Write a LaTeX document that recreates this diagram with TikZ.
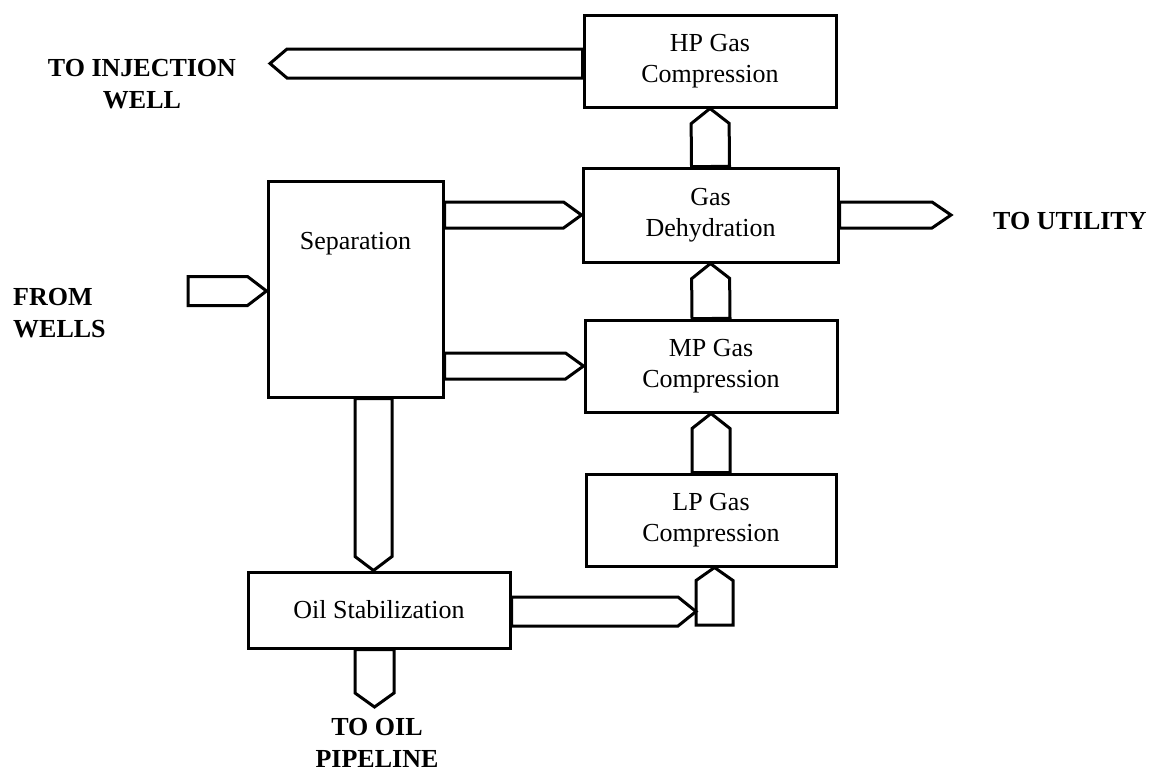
\documentclass[tikz,border=0pt]{standalone}
\usepackage{fontspec}
\setmainfont{Liberation Serif}
\usetikzlibrary{calc}
\tikzset{
  box/.style={draw, line width=3pt, fill=white, inner sep=0pt, align=center,
    font=\fontsize{26}{31}\selectfont},
  pipe/.style={draw, line width=3pt, fill=white, line join=miter},
  lbl/.style={font=\fontsize{26}{32}\selectfont\bfseries, inner sep=0pt},
  boxtext/.style={inner sep=0pt, font=\fontsize{26}{31}\selectfont},
}
% #1 half width, #2 head length, #3 start, #4 tip
\newcommand\barrow[4]{%
  \coordinate (bh) at ($(#4)!#2pt!(#3)$);
  \draw[pipe] ($(#3)!#1pt!90:(#4)$) -- ($(bh)!#1pt!-90:(#3)$) -- (#4)
     -- ($(bh)!#1pt!90:(#3)$) -- ($(#3)!#1pt!-90:(#4)$) -- cycle;}
\begin{document}
\begin{tikzpicture}[x=1pt,y=-1pt]
\useasboundingbox (0,0) rectangle (1151,772);
% boxes
\node[box, minimum width=252pt, minimum height=92pt] (hp) at (710,61) {HP Gas\\Compression};
\node[box, minimum width=255pt, minimum height=94pt] (dehy) at (710.5,215) {Gas\\Dehydration};
\node[box, minimum width=175pt, minimum height=216pt] (sep) at (355.5,289) {};
\node[boxtext, anchor=base] (septxt) at ($(sep.north)+(0,70)$) {Separation};
\node[box, minimum width=252pt, minimum height=92pt] (mp) at (711,366) {MP Gas\\Compression};
\node[box, minimum width=250pt, minimum height=92pt] (lp) at (711,520) {LP Gas\\Compression};
\node[box, minimum width=262pt, minimum height=76pt] (oil) at (379,610) {Oil Stabilization};
% free ends
\coordinate (inj) at (270,63.5);
\coordinate (wl) at (188,291);
\coordinate (ut) at (951,215);
\coordinate (op) at (374.5,707);
\coordinate (lpin) at (714.5,625);
\coordinate (lpj) at (696,611.5);
\coordinate (so) at ($(oil.north)+(-5.5,0)$);
% block arrows
\barrow{14.5}{17}{hp.west |- inj}{inj}
\barrow{14.5}{19}{wl}{wl -| sep.west}
\barrow{13}{18}{sep.east |- dehy.west}{dehy.west}
\barrow{13}{18}{sep.east |- mp.west}{mp.west}
\barrow{13}{19}{dehy.east |- ut}{ut}
\barrow{19}{15}{dehy.north}{hp.south}
\barrow{19}{15}{mp.north}{dehy.south}
\barrow{19}{15}{lp.north}{mp.south}
\barrow{18.5}{14}{so |- sep.south}{so}
\barrow{19.5}{14}{op |- oil.south}{op}
\barrow{18.5}{13}{lpin}{lpin |- lp.south}
\barrow{14.5}{18}{oil.east |- lpj}{lpj}
% labels (base anchor = baseline of the last line)
\node[lbl, align=center, anchor=base] (linj) at (142,108) {TO INJECTION\\WELL};
\node[lbl, align=left, anchor=base west] (lwells) at (13,337) {FROM\\WELLS};
\node[lbl, anchor=base west] (lut) at (993,229) {TO UTILITY};
\node[lbl, align=center, anchor=base] (lop) at (377,767) {TO OIL\\PIPELINE};
\end{tikzpicture}
\end{document}
